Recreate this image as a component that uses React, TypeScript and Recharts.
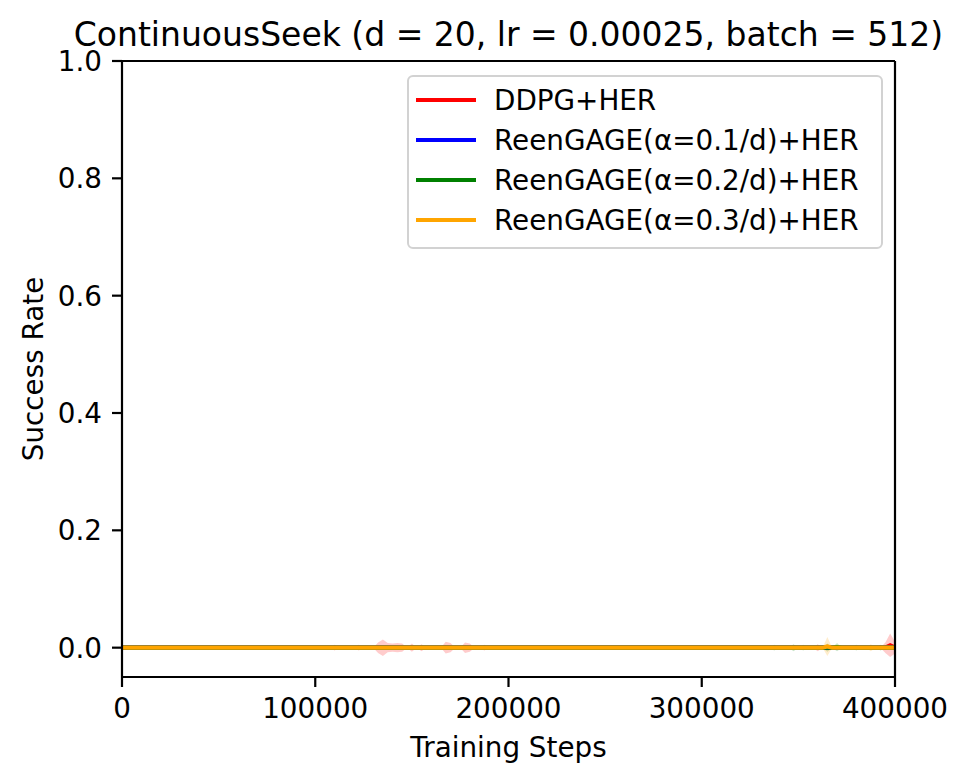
import { ComposedChart, Line, Area, XAxis, YAxis, ReferenceLine } from 'recharts';

const FONT = "'DejaVu Sans', sans-serif";
const TICK_FS = 27.8;

// training steps where results were logged (denser where the runs wobble)
const steps = [
  0, 50000, 100000,
  105000, 107500, 110000, 112500, 115000, 117500, 120000, 122500, 125000, 127500,
  130000, 132500, 135000, 137500, 140000, 142500, 145000, 147500, 150000, 152500,
  155000, 157500, 160000, 162500, 165000, 167500, 170000, 172500, 175000, 177500,
  180000, 182500, 185000, 187500, 190000, 192500, 195000,
  200000, 250000, 300000, 330000,
  332500, 335000, 337500, 340000, 342500, 345000, 347500, 350000, 352500, 355000,
  357500, 360000, 362500, 365000, 367500, 370000, 372500, 375000, 377500, 380000,
  382500, 385000, 387500, 390000, 392500, 395000, 397500, 400000,
];

const xTicks = [0, 100000, 200000, 300000, 400000];
const yTicks = [0, 0.2, 0.4, 0.6, 0.8, 1.0];

// mean success rate is 0 everywhere except a few logged blips: [step, mean]
const ddpgMean: [number, number][] = [[397500, 0.004]];
const reen01Mean: [number, number][] = [];
const reen02Mean: [number, number][] = [[370000, 0.001]];
const reen03Mean: [number, number][] = [[365000, 0.002]];

// half-width of the shaded spread around the mean: [step, spread]
const ddpgSpread: [number, number][] = [
  [110000, 0.005], [122500, 0.005], [132500, 0.009], [135000, 0.014], [137500, 0.008],
  [140000, 0.007], [142500, 0.008], [145000, 0.007], [150000, 0.007], [155000, 0.006],
  [167500, 0.01], [170000, 0.008], [177500, 0.009], [180000, 0.007], [187500, 0.005],
  [360000, 0.006], [395000, 0.009], [397500, 0.02], [400000, 0.01],
];
const reen01Spread: [number, number][] = [];
const reen02Spread: [number, number][] = [
  [337500, 0.005], [347500, 0.006], [352500, 0.005], [365000, 0.007],
  [370000, 0.007], [380000, 0.005], [392500, 0.005],
];
const reen03Spread: [number, number][] = [[365000, 0.016], [387500, 0.006]];

const series = [
  { key: 'ddpg', name: 'DDPG+HER', color: '#ff0000', mean: ddpgMean, spread: ddpgSpread },
  { key: 'reen01', name: 'ReenGAGE(α=0.1/d)+HER', color: '#0000ff', mean: reen01Mean, spread: reen01Spread },
  { key: 'reen02', name: 'ReenGAGE(α=0.2/d)+HER', color: '#008000', mean: reen02Mean, spread: reen02Spread },
  { key: 'reen03', name: 'ReenGAGE(α=0.3/d)+HER', color: '#ffa500', mean: reen03Mean, spread: reen03Spread },
];

const lookup = (list: [number, number][], step: number) => {
  const hit = list.find((p) => p[0] === step);
  return hit ? hit[1] : 0;
};

const data = steps.map((step) => {
  const row: any = { step };
  series.forEach((s) => {
    const m = lookup(s.mean, step);
    const sd = lookup(s.spread, step);
    row[s.key] = m;
    row[s.key + 'Band'] = [m - sd, m + sd];
  });
  return row;
});

const XTick = ({ x, y, payload }: any) => (
  <text x={x} y={y} dy={31} textAnchor="middle" fontSize={TICK_FS} fontFamily={FONT} fill="#000">
    {payload.value}
  </text>
);

const YTick = ({ x, y, payload }: any) => (
  <text x={x} y={y} dx={-10} dy={10} textAnchor="end" fontSize={TICK_FS} fontFamily={FONT} fill="#000">
    {Number(payload.value).toFixed(1)}
  </text>
);

const Legend = () => (
  <div
    style={{
      position: 'absolute',
      left: 407,
      top: 75,
      width: 472,
      height: 167,
      border: '2px solid #d2d2d2',
      borderRadius: 6,
      background: 'rgba(255,255,255,0.8)',
      paddingTop: 3,
      boxSizing: 'content-box',
    }}
  >
    {series.map((s) => (
      <div key={s.key} style={{ display: 'flex', alignItems: 'center', height: 40 }}>
        <div style={{ marginLeft: 7, width: 60, height: 4, background: s.color }} />
        <span style={{ marginLeft: 18, fontSize: TICK_FS, fontFamily: FONT, color: '#000', whiteSpace: 'nowrap' }}>
          {s.name}
        </span>
      </div>
    ))}
  </div>
);

export default function App() {
  return (
    <div style={{ position: 'absolute', left: 0, top: 0, width: 969, height: 782, background: '#fff', fontFamily: FONT }}>
      <div
        style={{
          position: 'absolute',
          left: 0,
          top: 25,
          width: 1017,
          height: 20,
          textAlign: 'center',
          fontSize: 33,
          lineHeight: '20px',
          whiteSpace: 'nowrap',
          color: '#000',
        }}
      >
        ContinuousSeek (d = 20, lr = 0.00025, batch = 512)
      </div>
      <ComposedChart width={969} height={782} data={data} margin={{ top: 61, right: 74, bottom: 0, left: 0 }}>
        <XAxis
          dataKey="step"
          type="number"
          domain={[0, 400000]}
          ticks={xTicks}
          allowDataOverflow
          height={105}
          tickSize={10}
          tickMargin={0}
          tick={<XTick />}
          axisLine={{ stroke: '#000', strokeWidth: 2.2 }}
          tickLine={{ stroke: '#000', strokeWidth: 2.2 }}
          label={{
            content: () => (
              <text x={508.5} y={757} textAnchor="middle" fontSize={TICK_FS} fontFamily={FONT} fill="#000">
                Training Steps
              </text>
            ),
          }}
        />
        <YAxis
          type="number"
          domain={[-0.05, 1.0]}
          ticks={yTicks}
          allowDataOverflow
          width={122}
          tickSize={10}
          tickMargin={0}
          tick={<YTick />}
          axisLine={{ stroke: '#000', strokeWidth: 2.2 }}
          tickLine={{ stroke: '#000', strokeWidth: 2.2 }}
          label={{
            content: () => (
              <text
                x={43}
                y={369}
                transform="rotate(-90 43 369)"
                textAnchor="middle"
                fontSize={TICK_FS}
                fontFamily={FONT}
                fill="#000"
              >
                Success Rate
              </text>
            ),
          }}
        />
        {series.map((s) => [
          <Area
            key={s.key + 'Band'}
            dataKey={s.key + 'Band'}
            type="linear"
            fill={s.color}
            fillOpacity={0.2}
            stroke="none"
            isAnimationActive={false}
          />,
          <Line
            key={s.key}
            dataKey={s.key}
            type="linear"
            stroke={s.color}
            strokeWidth={4.2}
            dot={false}
            activeDot={false}
            isAnimationActive={false}
          />,
        ])}
        <ReferenceLine y={1} stroke="#000" strokeWidth={2.2} />
        <ReferenceLine x={400000} stroke="#000" strokeWidth={2.2} />
      </ComposedChart>
      <Legend />
    </div>
  );
}
